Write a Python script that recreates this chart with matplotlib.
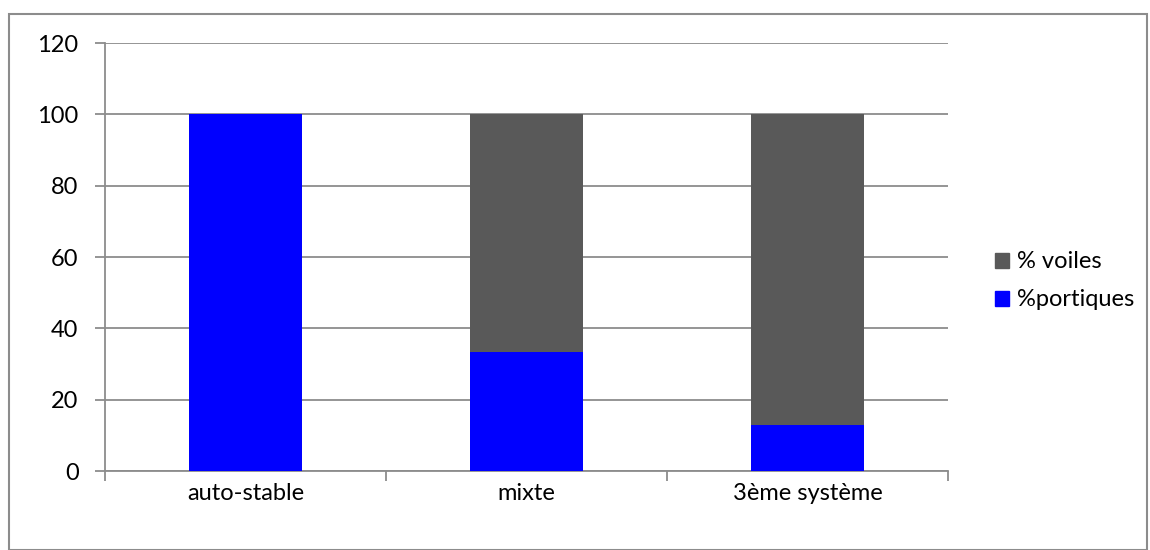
import matplotlib
matplotlib.use("Agg")
import matplotlib.pyplot as plt
from matplotlib.patches import Rectangle, Patch

categories = ["auto-stable", "mixte", "3ème système"]
portiques = [100, 33.3, 13]
voiles = [0, 66.7, 87]
yticks = [0, 20, 40, 60, 80, 100, 120]

plt.rcParams['font.family'] = ['Lato', 'DejaVu Sans']

fig = plt.figure(figsize=(11.5, 5.5), dpi=100)
ax = fig.add_axes([105/1150, 1 - 471/550, (948-105)/1150, (471-43)/550])

grid_c = "#8c8c8c"
FS = 17
x = range(len(categories))
ax.bar(x, portiques, width=0.4, color="#0000FF", zorder=3)
ax.bar(x, voiles, width=0.4, bottom=portiques, color="#595959", zorder=3)

ax.set_xlim(-0.5, 2.5)
ax.set_ylim(0, 120)
ax.set_yticks(yticks)
ax.set_yticklabels([str(v) for v in yticks], fontsize=FS)
ax.yaxis.grid(True, color=grid_c, linewidth=1.3, zorder=0)
ax.set_axisbelow(True)

ax.set_xticks(list(x))
ax.set_xticklabels(categories, fontsize=FS)
ax.tick_params(axis='x', which='major', length=0, pad=9)
ax.set_xticks([-0.5, 0.5, 1.5, 2.5], minor=True)
ax.tick_params(axis='x', which='minor', length=7, color=grid_c, width=1.3)
ax.tick_params(axis='y', length=7, color=grid_c, width=1.3, pad=12)

for s in ['top', 'right']:
    ax.spines[s].set_visible(False)
for s in ['left', 'bottom']:
    ax.spines[s].set_color(grid_c)
    ax.spines[s].set_linewidth(1.3)

handles = [Patch(color="#595959", label="% voiles"),
           Patch(color="#0000FF", label="%portiques")]
fig.legend(handles=handles, loc='center left', bbox_to_anchor=(974/1150, 1 - 281/550),
           frameon=False, fontsize=FS, handlelength=0.6, handleheight=0.6,
           handletextpad=0.34, labelspacing=0.72)

fig.patches.append(Rectangle((9/1150, 0/550), (1147-9)/1150, (536)/550,
                             transform=fig.transFigure, fill=False,
                             edgecolor="#8c8c8c", linewidth=1.5))

fig.savefig("out.png", dpi=100)
